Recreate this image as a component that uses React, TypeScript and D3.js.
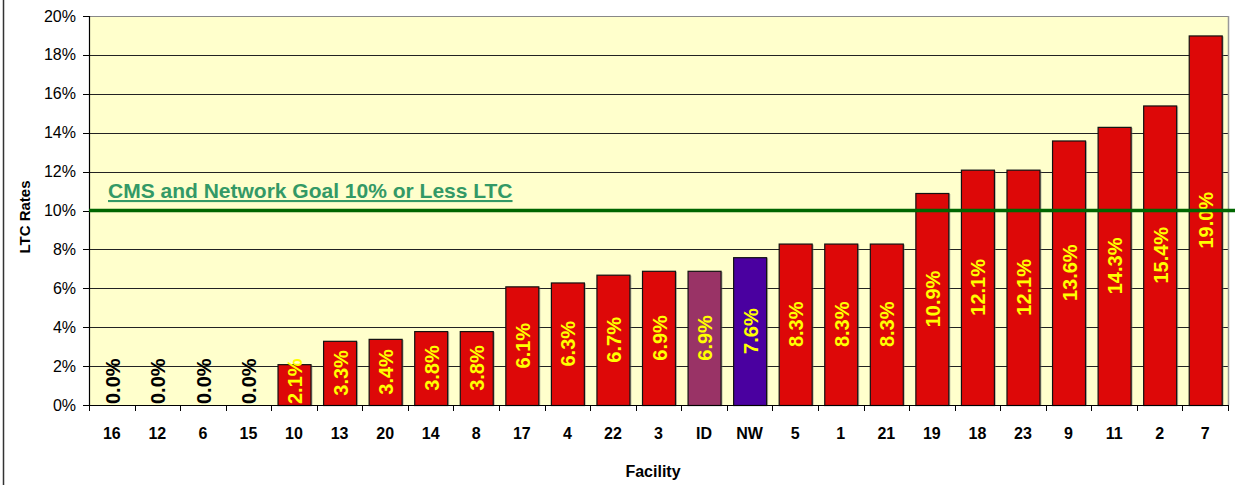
import React from "react";
import * as d3 from "d3";

const categories = ["16","12","6","15","10","13","20","14","8","17","4","22","3","ID","NW","5","1","21","19","18","23","9","11","2","7"];
const values = [0,0,0,0,2.1,3.3,3.4,3.8,3.8,6.1,6.3,6.7,6.9,6.9,7.6,8.3,8.3,8.3,10.9,12.1,12.1,13.6,14.3,15.4,19.0];
const yTicks = [0,2,4,6,8,10,12,14,16,18,20];
const goalValue = 10;
const goalLabel = "CMS and Network Goal 10% or Less LTC";
const yTitle = "LTC Rates";
const xTitle = "Facility";

const W = 1235, H = 485;
const L = 89, R = 1228, T = 16, B = 405;
const FONT = "Arial, 'Liberation Sans', Helvetica, sans-serif";

function barColor(c: string) {
  if (c === "ID") return "#993366";
  if (c === "NW") return "#4a00a0";
  return "#dd0808";
}

const cw: Record<string, number> = { ".": 0.278, "%": 0.889 };
function textLen(s: string, size: number) {
  let w = 0;
  for (const ch of s) w += cw[ch] ?? 0.556;
  return w * size;
}

export default function App() {
  const x = d3.scaleBand<string>().domain(categories).range([L, R]).paddingInner(0.276).paddingOuter(0.138);
  const y = d3.scaleLinear().domain([0, 20]).range([B, T]);
  const step = x.step();
  const labelSize = 20;

  return (
    <div style={{ position: "absolute", left: 0, top: 0 }}>
      <svg width={W} height={H} style={{ display: "block", fontFamily: FONT }}>
        <rect x={0} y={0} width={W} height={H} fill="#ffffff" />
        <line x1={3.5} x2={3.5} y1={0} y2={H} stroke="#333" strokeWidth={1.5} />
        <rect x={L} y={T} width={R - L} height={B - T} fill="#ffffcc" />
        {yTicks.slice(1).map((t) => (
          <line key={"g" + t} x1={L} x2={R} y1={Math.round(y(t)) + 0.5} y2={Math.round(y(t)) + 0.5}
            stroke={t === 20 ? "#888" : "#222"} strokeWidth={1} />
        ))}
        <line x1={R + 0.5} x2={R + 0.5} y1={T} y2={B} stroke="#999" strokeWidth={1.5} />
        {categories.map((c, i) => {
          const v = values[i];
          const bx = x(c)!;
          const by = y(v);
          const h = B - by;
          return v > 0 ? (
            <g key={"b" + c}>
              <rect x={bx + 2} y={by + 1} width={x.bandwidth()} height={h - 1} fill="#777" opacity={0.5} />
              <rect x={bx + 0.5} y={by + 0.5} width={x.bandwidth()} height={h} fill={barColor(c)} stroke="#111" strokeWidth={1.2} />
            </g>
          ) : null;
        })}
        {/* axes */}
        <line x1={L + 0.5} x2={L + 0.5} y1={T} y2={B} stroke="#000" strokeWidth={1.2} />
        {yTicks.map((t) => (
          <g key={"yt" + t}>
            <line x1={L - 6} x2={L} y1={Math.round(y(t)) + 0.5} y2={Math.round(y(t)) + 0.5} stroke="#000" />
            <text x={L - 13} y={y(t)} textAnchor="end" dominantBaseline="central" fontSize={16} fill="#000">{t + "%"}</text>
          </g>
        ))}
        <line x1={L} x2={R} y1={B + 0.5} y2={B + 0.5} stroke="#000" strokeWidth={1.2} />
        {d3.range(categories.length + 1).map((i) => {
          const tx = Math.round(L + i * step) + 0.5;
          return <line key={"xt" + i} x1={tx} x2={tx} y1={B} y2={B + 6} stroke="#000" />;
        })}
        {categories.map((c) => (
          <text key={"xl" + c} x={x(c)! + x.bandwidth() / 2} y={433} textAnchor="middle" dominantBaseline="central"
            fontSize={16} fontWeight="bold" fill="#000">{c}</text>
        ))}
        {/* bar labels */}
        {categories.map((c, i) => {
          const v = values[i];
          const s = v.toFixed(1) + "%";
          const len = textLen(s, labelSize);
          const mid = (y(v) + B) / 2;
          const cy = Math.min(mid, B - len / 2 - 1);
          const cx = x(c)! + x.bandwidth() / 2 + 1;
          return (
            <text key={"vl" + c} transform={`translate(${cx},${cy}) rotate(-90)`} textAnchor="middle" dominantBaseline="central"
              fontSize={labelSize} fontWeight="bold" fill={v === 0 ? "#000" : "#ffff00"}>{s}</text>
          );
        })}
        {/* goal line */}
        <line x1={L} x2={W} y1={y(goalValue)} y2={y(goalValue)} stroke="#006600" strokeWidth={3.5} />
        <text x={108} y={198} fontSize={21} fontWeight="bold" fill="#339966" textDecoration="underline">{goalLabel}</text>
        {/* titles */}
        <text transform={`translate(24,${217}) rotate(-90)`} textAnchor="middle" dominantBaseline="central"
          fontSize={15} fontWeight="bold" fill="#000">{yTitle}</text>
        <text x={653} y={471} textAnchor="middle" dominantBaseline="central" fontSize={16} fontWeight="bold" fill="#000">{xTitle}</text>
      </svg>
    </div>
  );
}
